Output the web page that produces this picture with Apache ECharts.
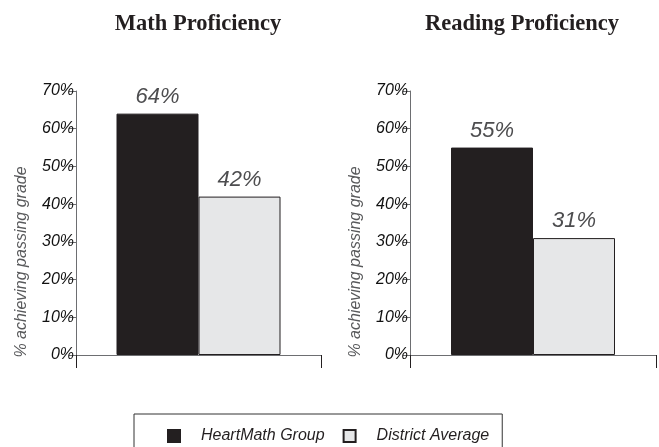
<!DOCTYPE html>
<html>
<head>
<meta charset="utf-8">
<script src="https://cdn.jsdelivr.net/npm/echarts@6/dist/echarts.min.js"></script>
<style>
  html, body { margin: 0; padding: 0; background: #fff; }
  #chart { width: 659px; height: 447px; }
</style>
</head>
<body>
<div id="chart"></div>
<script>
// Proficiency results: one panel per subject
const subjects = ['Math Proficiency', 'Reading Proficiency'];
const seriesNames = ['HeartMath Group', 'District Average'];
const heartMathGroup = [64, 55];
const districtAverage = [42, 31];
const axisMax = 70;
const axisStep = 10;
const axisTitle = '% achieving passing grade';

const sansFont = '"Liberation Sans", Arial, sans-serif';
const serifFont = '"Liberation Serif", "Times New Roman", serif';
const darkFill = '#231f20';
const lightFill = '#e6e7e8';
const axisColor = '#6d6e71';

const panels = [
  { grid: { left: 76, top: 91, width: 245, height: 264 }, titleX: 193 },
  { grid: { left: 410, top: 91, width: 246, height: 264 }, titleX: 517 }
];

const valueLabel = {
  show: true,
  position: 'top',
  distance: 6,
  formatter: '{c}%',
  fontFamily: sansFont,
  fontStyle: 'italic',
  fontSize: 22,
  color: '#4d4d4f'
};

const option = {
  animation: false,
  backgroundColor: '#ffffff',
  title: panels.map((p, i) => ({
    text: subjects[i],
    left: p.titleX,
    top: 8,
    textAlign: 'center',
    textStyle: { fontFamily: serifFont, fontWeight: 'bold', fontSize: 22.5, color: '#231f20' }
  })),
  legend: {
    data: seriesNames,
    left: 134,
    top: 414,
    padding: [14, 13, 40, 33],
    borderColor: '#333',
    borderWidth: 1,
    itemWidth: 12,
    itemHeight: 12,
    itemGap: 18,
    icon: 'rect',
    textStyle: { fontFamily: sansFont, fontStyle: 'italic', fontSize: 16, color: '#231f20', padding: [0, 0, 0, 16] }
  },
  grid: panels.map(p => p.grid),
  xAxis: panels.map((p, i) => ({
    type: 'category',
    gridIndex: i,
    data: [subjects[i]],
    axisLine: { lineStyle: { color: axisColor, width: 1 } },
    axisTick: { show: true, length: 13, lineStyle: { color: '#231f20' } },
    axisLabel: { show: false }
  })),
  yAxis: panels.map((p, i) => ({
    type: 'value',
    gridIndex: i,
    min: 0,
    max: axisMax,
    interval: axisStep,
    name: axisTitle,
    nameLocation: 'middle',
    nameGap: 46,
    nameTextStyle: {
      fontFamily: sansFont, fontStyle: 'italic', fontSize: 16, color: '#58595b',
      padding: [0, 78, 0, 0]
    },
    axisLine: { show: true, lineStyle: { color: axisColor, width: 1 } },
    axisTick: { show: true, length: 7, lineStyle: { color: axisColor } },
    splitLine: { show: false },
    axisLabel: {
      formatter: '{value}%',
      margin: 2,
      fontFamily: sansFont, fontStyle: 'italic', fontSize: 16, color: '#111111'
    }
  })),
  series: panels.flatMap((p, i) => [
    {
      name: seriesNames[0],
      type: 'bar',
      xAxisIndex: i,
      yAxisIndex: i,
      barWidth: 82,
      barGap: '0%',
      data: [heartMathGroup[i]],
      itemStyle: { color: darkFill, borderColor: darkFill, borderWidth: 1 },
      label: valueLabel
    },
    {
      name: seriesNames[1],
      type: 'bar',
      xAxisIndex: i,
      yAxisIndex: i,
      barWidth: 82,
      barGap: '0%',
      data: [districtAverage[i]],
      itemStyle: { color: lightFill, borderColor: '#231f20', borderWidth: 1 },
      label: valueLabel
    }
  ])
};

const chart = echarts.init(document.getElementById('chart'), null, { renderer: 'canvas' });
chart.setOption(option);
</script>
</body>
</html>
